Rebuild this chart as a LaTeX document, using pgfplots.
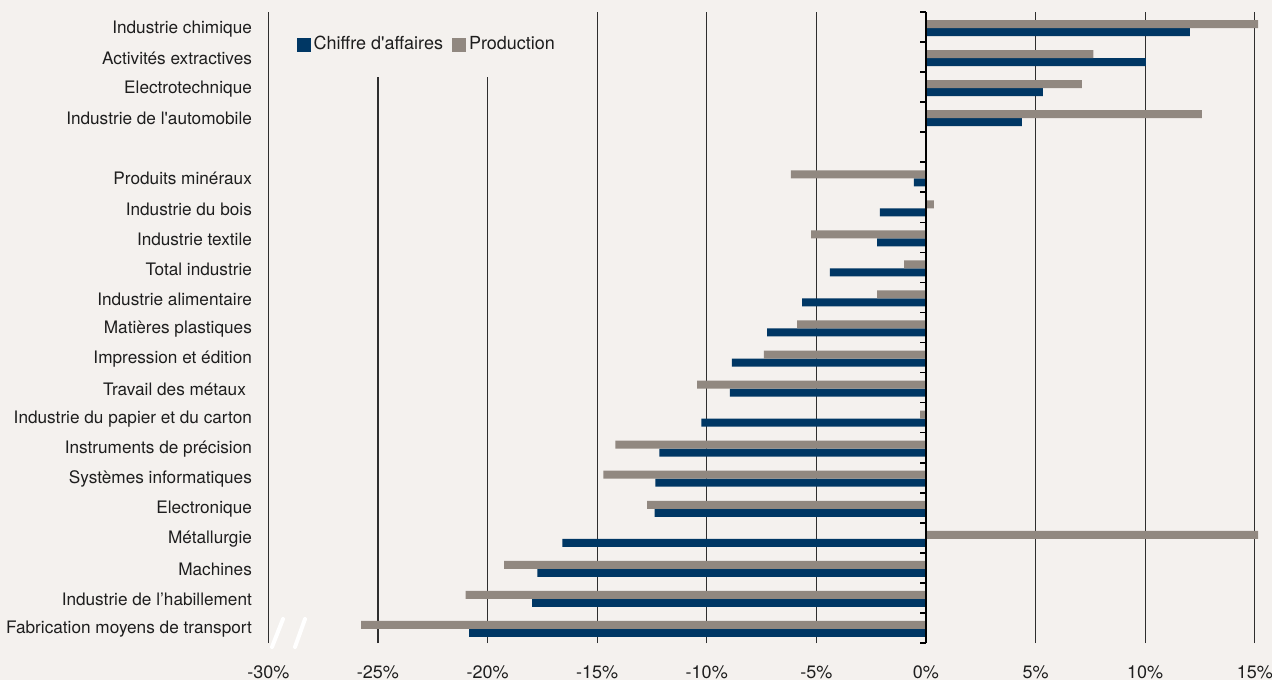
\documentclass[border=0pt]{standalone}
\usepackage{pgfplots}
\pgfplotsset{compat=1.18}
\usepackage{fontspec}
\setmainfont{TeX Gyre Heros}[Ligatures=TeXOff]

\definecolor{bg}{HTML}{F4F1EE}
\definecolor{caBlue}{HTML}{003764}
\definecolor{prodGrey}{HTML}{918880}
\definecolor{gridc}{HTML}{2E2E2E}
\definecolor{txt}{HTML}{1E1E1E}

% y = 20 is the top row, y = 0 the bottom row; y = 16 is left empty
\pgfplotstableread{
y   ca      prod
20  12.04   15.15
19  10.03    7.64
18   5.33    7.11
17   4.37   12.59
15  -0.55   -6.16
14  -2.10    0.36
13  -2.23   -5.24
12  -4.38   -1.00
11  -5.65   -2.23
10  -7.25   -5.88
9   -8.85   -7.39
8   -8.94  -10.44
7  -10.24   -0.27
6  -12.16  -14.17
5  -12.34  -14.72
4  -12.38  -12.72
3  -16.59   15.15
2  -17.73  -19.24
1  -17.96  -21.00
0  -20.84  -25.77
}\secteurs

\begin{document}
\begin{tikzpicture}
\fill[bg] (0,0) rectangle (636pt,340pt);
\begin{axis}[
  at={(134.15pt,18.5pt)}, anchor=south west,
  scale only axis, width=493.25pt, height=315.5pt,
  xmin=-30, xmax=15, ymin=-0.5, ymax=20.5,
  clip=false,
  axis line style={draw=none},
  major tick length=0pt,
  xtick={-30,-25,...,15},
  xticklabels={-30\%,-25\%,-20\%,-15\%,-10\%,-5\%,0\%,5\%,10\%,15\%},
  xmajorgrids,
  grid style={gridc, line width=0.6pt},
  ytick={0,...,20},
  yticklabels={Fabrication moyens de transport, Industrie de l’habillement, Machines, Métallurgie, Electronique, Systèmes informatiques, Instruments de précision, Industrie du papier et du carton, {Travail des métaux\hspace*{3pt}}, Impression et édition, Matières plastiques, Industrie alimentaire, Total industrie, Industrie textile, Industrie du bois, Produits minéraux, {}, Industrie de l'automobile, Electrotechnique, Activités extractives, Industrie chimique},
  yticklabel style={anchor=east, inner sep=0pt, xshift=-8pt, yshift=-0.8pt, text=txt,
    font=\fontsize{8.6}{10}\selectfont},
  xticklabel style={anchor=north, inner sep=0pt, yshift=-11pt, text=txt,
    font=\fontsize{9}{10}\selectfont},
  xbar, bar width=4pt,
  legend columns=-1,
  legend style={at={(rel axis cs:0,1)}, anchor=north west, xshift=1pt,
    fill=bg, draw=none, inner xsep=13pt, inner ysep=11pt,
    font=\fontsize{9}{10}\selectfont, text=txt,
    nodes={inner xsep=1.5pt, inner ysep=1pt},
    /tikz/every even column/.append style={column sep=3pt}},
  legend image code/.code={\fill[#1] (0pt,-3.5pt) rectangle (7pt,3.5pt);},
]
\addplot[draw=none, fill=caBlue, bar shift=-2.5pt] table[x=ca, y=y] {\secteurs};
\addplot[draw=none, fill=prodGrey, bar shift=1.5pt] table[x=prod, y=y] {\secteurs};
\legend{Chiffre d'affaires, Production}
% zero axis with its row separators
\draw[black, line width=0.9pt] (axis cs:0,-0.5) -- (axis cs:0,20.5);
\pgfplotsinvokeforeach{-0.5,0.5,...,20.5}{
  \draw[black, line width=0.8pt] (axis cs:0,#1) -- ++(-3pt,0pt);
}
\end{axis}
% scale-break marks at the left end of the value axis
\draw[white, line width=2pt, line cap=round] (141.5pt,30.5pt) -- (136pt,16.5pt);
\draw[white, line width=2pt, line cap=round] (152.5pt,30.5pt) -- (147.5pt,16.5pt);
\pgfresetboundingbox
\useasboundingbox (0,0) rectangle (636pt,340pt);
\end{tikzpicture}
\end{document}
